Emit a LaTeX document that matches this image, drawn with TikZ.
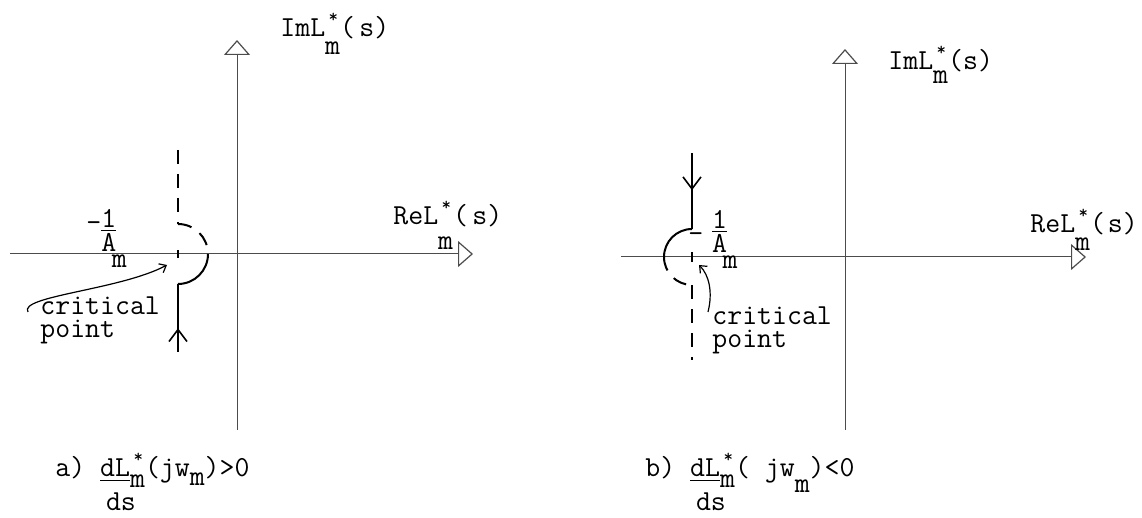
\documentclass[tikz,border=0pt]{standalone}
\usepackage{tikz}
\usetikzlibrary{arrows.meta,decorations.markings}
\colorlet{axisgray}{black!70}
\newcommand{\starm}[1]{\makebox[0pt][l]{\hspace{0.12em}\raisebox{0.5em}{\fontsize{9}{9}\selectfont *}}\raisebox{-#1}{m}}
\newcommand{\negrecip}[2]{\raisebox{#1}{-}\hspace{#2}\begin{tabular}[b]{@{}c@{}}\underline{1}\\[-5pt]A\end{tabular}\hspace{-0.15em}\raisebox{-0.55em}{m}}
\newcommand{\dLds}[1]{\begin{tabular}[t]{@{}l@{}}\underline{dL}\starm{#1}\\[0pt]\hspace{0.2em}ds\end{tabular}}

\begin{document}
\begin{tikzpicture}[x=0.5pt, y=-0.5pt,
    every node/.style={font=\ttfamily\fontsize{14.5}{17}\selectfont, inner sep=0pt},
    axis/.style={line width=0.5pt, draw=axisgray,
                 -{Triangle[open, length=7.5pt, width=13pt, line width=0.6pt]}},
    contour/.style={line width=1pt},
    gap/.style={contour, dash pattern=on 7pt off 5pt},
    flow/.style={postaction={decorate}, decoration={markings,
                 mark=at position #1 with {\arrow{Straight Barb[length=6pt, width=9pt, line width=0.8pt]}}}},
    pointer/.style={line width=0.6pt, -{Straight Barb[length=3pt, width=5pt]}}
  ]
  \useasboundingbox (0,0) rectangle (1142,518);

  % a) axes
  \coordinate (a-xmin) at (10,254);
  \coordinate (a-xmax) at (473,254);
  \coordinate (a-ymin) at (237,430);
  \coordinate (a-ymax) at (237,40);
  \draw[axis] (a-xmin) -- (a-xmax);
  \draw[axis] (a-ymin) -- (a-ymax);
  \node[anchor=base west] (ima) at (280,37) {ImL\starm{0.6em}(\hspace{0.15em}s)};
  \node[anchor=base west] (rea) at (393,225) {ReL\starm{0.85em}(\hspace{0.15em}s)};

  % a) contour round the critical point
  \coordinate (ca) at (178,254);
  \coordinate (a-high) at (178,150);
  \coordinate (a-top) at (178,224);
  \coordinate (a-east) at (208,254);
  \coordinate (a-bot) at (178,284);
  \coordinate (a-low) at (178,352);
  \draw[gap] (a-high) -- (a-top);
  \draw[gap] (a-top) arc[start angle=90, end angle=0, radius=15pt];
  \draw[contour] (a-east) arc[start angle=0, end angle=-90, radius=15pt];
  \draw[contour, flow=0.35] (a-low) -- (a-bot);
  \draw[contour] ([yshift=-2pt]ca) -- ([yshift=2pt]ca);
  \node[anchor=base west] (ka) at (86,252) {\negrecip{0.7em}{0pt}};
  \node[anchor=base west] (crita) at (40,315) {critical};
  \node[anchor=base west] (pointa) at (40,338) {point};
  \coordinate (pa) at (28,312);
  \coordinate (ta) at (167,265);
  \draw[pointer] (pa) .. controls (18,296) and (120,290) .. (ta);
  \node[anchor=base west] (capa) at (55,477) {a)~\dLds{0.35em}(jw\raisebox{-0.3em}{m})>0};

  % b) axes
  \coordinate (b-xmin) at (621,257);
  \coordinate (b-xmax) at (1086,257);
  \coordinate (b-ymin) at (845,430);
  \coordinate (b-ymax) at (845,49);
  \draw[axis] (b-xmin) -- (b-xmax);
  \draw[axis] (b-ymin) -- (b-ymax);
  \node[anchor=base west] (imb) at (888,70) {ImL\starm{0.45em}(s)};
  \node[anchor=base west] (reb) at (1030,233) {ReL\starm{0.6em}(\hspace{0.1em}s)};

  % b) contour round the critical point
  \coordinate (cb) at (692,257);
  \coordinate (b-high) at (692,153);
  \coordinate (b-top) at (692,229);
  \coordinate (b-west) at (664,257);
  \coordinate (b-bot) at (692,285);
  \coordinate (b-low) at (692,360);
  \draw[contour, flow=0.49] (b-high) -- (b-top);
  \draw[contour] (b-top) arc[start angle=90, end angle=180, radius=14pt];
  \draw[gap] (b-west) arc[start angle=180, end angle=270, radius=14pt];
  \draw[gap] (b-bot) -- (b-low);
  \draw[contour] ([yshift=-2.5pt]cb) -- ([yshift=2.5pt]cb);
  \node[anchor=base west] (kb) at (688,253) {\negrecip{0.35em}{0.3em}};
  \node[anchor=base west] (critb) at (712,325) {critical};
  \node[anchor=base west] (pointb) at (712,348) {point};
  \coordinate (pb) at (708,312);
  \coordinate (tb) at (699,265);
  \draw[pointer] (pb) .. controls (713,292) and (709,275) .. (tb);
  \node[anchor=base west] (capb) at (645,477) {b)~\dLds{0.35em}(~jw\raisebox{-0.55em}{m})<0};
\end{tikzpicture}
\end{document}
